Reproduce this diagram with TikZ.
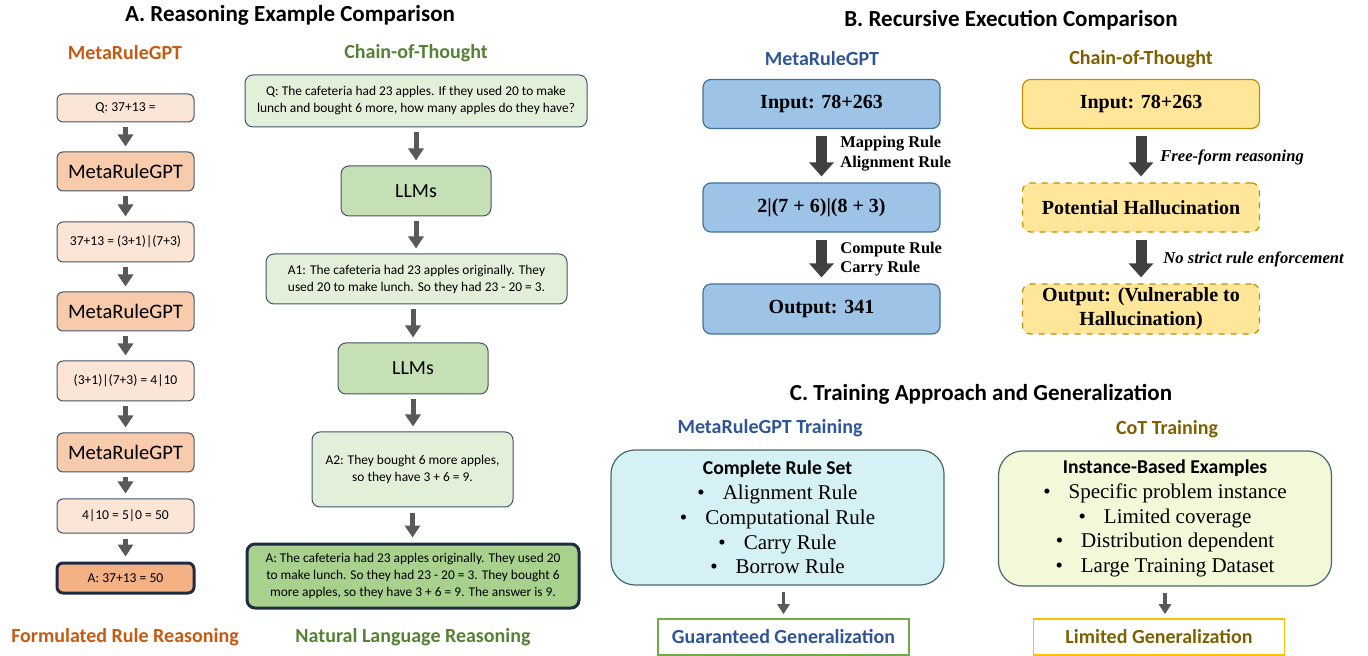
\documentclass[tikz,border=0pt]{standalone}
\usepackage{fontspec}
\setmainfont{Carlito}
\newfontfamily\rmserif{Liberation Serif}
\usetikzlibrary{arrows.meta}
\usetikzlibrary{positioning}

\definecolor{mrorange}{HTML}{C55A11}
\definecolor{cotgreen}{HTML}{548235}
\definecolor{peachlight}{HTML}{FBE5D6}
\definecolor{peach}{HTML}{F8CBAD}
\definecolor{peachdark}{HTML}{F4B183}
\definecolor{greenlight}{HTML}{E2F0D9}
\definecolor{greenmid}{HTML}{C5E0B4}
\definecolor{greendark}{HTML}{A9D18E}
\definecolor{slate}{HTML}{44546A}
\definecolor{navy}{HTML}{1F2B45}
\definecolor{arrowgray}{HTML}{595959}
\definecolor{arrowdark}{HTML}{404040}
\definecolor{mrblue}{HTML}{2F5597}
\definecolor{cotgold}{HTML}{7F6000}
\definecolor{boxblue}{HTML}{9DC3E6}
\definecolor{blueline}{HTML}{41719C}
\definecolor{boxyellow}{HTML}{FFE699}
\definecolor{goldline}{HTML}{BF9000}
\definecolor{cyanlight}{HTML}{D6F1F6}
\definecolor{yellowlight}{HTML}{F3F8D8}
\definecolor{tealline}{HTML}{4A6868}
\definecolor{genegreen}{HTML}{70AD47}
\definecolor{geneyellow}{HTML}{FFC000}

\newcommand{\fsz}[2]{\fontsize{#1}{#2}\selectfont}

\tikzset{
  maintitle/.style={font=\bfseries\fsz{11.5}{14}},
  heading/.style={font=\bfseries\fsz{10}{12}},
  abox/.style={draw=slate, line width=0.5pt, rounded corners=3pt, minimum width=68.5pt, inner sep=0pt, align=center},
  stepsmall/.style={abox, fill=peachlight, font=\fsz{6.8}{8}},
  modelbox/.style={abox, fill=peach, minimum height=19.5pt, font=\fsz{10.3}{12}},
  cotbox/.style={draw=slate, line width=0.5pt, rounded corners=4pt, fill=greenlight, inner sep=0pt, align=center, font=\fsz{6.7}{8.5}},
  llmbox/.style={cotbox, fill=greenmid, minimum width=75pt, minimum height=25pt, font=\fsz{10}{12}},
  garrow/.style={draw=arrowgray, line width=2.5pt, -{Triangle[width=7.5pt,length=6pt]}, shorten <=2.5pt, shorten >=2.5pt},
  bbox/.style={draw=blueline, line width=0.6pt, rounded corners=4pt, fill=boxblue, minimum width=118.5pt, minimum height=24.5pt, inner sep=0pt, align=center, font=\rmserif\bfseries\fsz{10}{12}},
  ybox/.style={bbox, draw=goldline, fill=boxyellow},
  fatarrow/.style={draw=arrowdark, line width=5.5pt, -{Triangle[width=12pt,length=7pt]}, shorten <=3.5pt, shorten >=3pt},
  rulelbl/.style={font=\rmserif\bfseries\fsz{8.2}{9.7}, align=left, anchor=west, inner sep=0pt},
  freelbl/.style={font=\rmserif\bfseries\itshape\fsz{8.3}{9.7}, anchor=west, inner sep=0pt},
  trainbox/.style={draw=tealline, line width=0.6pt, rounded corners=12pt, minimum width=166.5pt, minimum height=67.5pt, inner sep=0pt, align=center, font=\fsz{10.5}{12.4}},
  genbox/.style={line width=0.8pt, fill=white, minimum width=125.5pt, minimum height=18pt, inner sep=0pt, font=\bfseries\fsz{10}{12}},
  smallarrow/.style={draw=arrowgray, line width=1.6pt, -{Triangle[width=6pt,length=5pt]}, shorten <=3pt, shorten >=2pt}
}

\begin{document}
\begin{tikzpicture}[x=0.5pt,y=-0.5pt]
  \useasboundingbox (0,0) rectangle (1368,656);

  % A. reasoning example
  \node[maintitle] (ttlA) at (290,15) {A. Reasoning Example Comparison};
  \node[heading,text=mrorange] (hdMR) at (125,53) {MetaRuleGPT};
  \node[heading,text=cotgreen] (hdCoT) at (416,53) {Chain-of-Thought};

  \node[stepsmall,minimum height=14pt] (q1) at (125.5,108) {Q: 37+13 =};
  \node[modelbox] (m1) at (125.5,171.5) {MetaRuleGPT};
  \node[stepsmall,minimum height=20pt] (s1) at (125.5,242) {37+13 = (3+1)|(7+3)};
  \node[modelbox] (m2) at (125.5,311.5) {MetaRuleGPT};
  \node[stepsmall,minimum height=20pt] (s2) at (125.5,381) {(3+1)|(7+3) = 4|10};
  \node[modelbox] (m3) at (125.5,452.5) {MetaRuleGPT};
  \node[stepsmall,minimum height=17pt] (s3) at (125.5,516) {4|10 = 5|0 = 50};
  \node[stepsmall,fill=peachdark,draw=navy,line width=1.5pt,minimum height=15pt] (ans) at (125.5,578) {A: 37+13 = 50};

  \draw[garrow] (q1) -- (m1);
  \draw[garrow] (m1) -- (s1);
  \draw[garrow] (s1) -- (m2);
  \draw[garrow] (m2) -- (s2);
  \draw[garrow] (s2) -- (m3);
  \draw[garrow] (m3) -- (s3);
  \draw[garrow] (s3) -- (ans);

  \node[cotbox,minimum width=171pt,minimum height=26pt] (cq) at (416,101)
    {Q: The cafeteria had 23 apples. If they used 20 to make\\lunch and bought 6 more, how many apples do they have?};
  \node[llmbox] (llm1) at (416,191) {LLMs};
  \node[cotbox,minimum width=150.5pt,minimum height=25pt] (ca1) at (416.5,279)
    {A1: The cafeteria had 23 apples originally. They\\used 20 to make lunch. So they had 23 - 20 = 3.};
  \node[llmbox,minimum height=25.5pt] (llm2) at (413,368.5) {LLMs};
  \node[cotbox,minimum width=100.5pt,minimum height=37.5pt] (ca2) at (412.5,469.5)
    {A2: They bought 6 more apples,\\so they have 3 + 6 = 9.};
  \node[cotbox,fill=greendark,draw=navy,line width=1.5pt,minimum width=166pt,minimum height=32pt] (cans) at (413,576)
    {A: The cafeteria had 23 apples originally. They used 20\\to make lunch. So they had 23 - 20 = 3. They bought 6\\more apples, so they have 3 + 6 = 9. The answer is 9.};

  \draw[garrow] (cq) -- (llm1);
  \draw[garrow] (llm1) -- (llm1 |- ca1.north);
  \draw[garrow] (llm2.north |- ca1.south) -- (llm2);
  \draw[garrow] (llm2) -- (llm2 |- ca2.north);
  \draw[garrow] (ca2) -- (ca2 |- cans.north);

  \node[heading,text=mrorange] (ftMR) at (125,637) {Formulated Rule Reasoning};
  \node[heading,text=cotgreen] (ftCoT) at (413,637) {Natural Language Reasoning};

  % B. recursive execution
  \node[maintitle] (ttlB) at (1011,20) {B. Recursive Execution Comparison};
  \node[heading,text=mrblue] (hdB1) at (822,59) {MetaRuleGPT};
  \node[heading,text=cotgold] (hdB2) at (1141,59) {Chain-of-Thought};

  \node[bbox] (in1) at (821.5,104) {Input: 78+263};
  \node[bbox] (mid1) at (821.5,207.5) {2|(7 + 6)|(8 + 3)};
  \node[bbox,minimum height=25pt] (out1) at (821.5,309) {Output: 341};
  \draw[fatarrow] (in1) -- (mid1);
  \draw[fatarrow] (mid1) -- (out1);
  \node[rulelbl] (r1) at (840,153.5) {Mapping Rule\\Alignment Rule};
  \node[rulelbl] (r2) at (840,259) {Compute Rule\\Carry Rule};

  \node[ybox] (in2) at (1141,104) {Input: 78+263};
  \node[ybox,dashed] (mid2) at (1141,207.5) {Potential Hallucination};
  \node[ybox,dashed,minimum height=25pt] (out2) at (1141,309) {Output: (Vulnerable to\\Hallucination)};
  \draw[fatarrow] (in2) -- (mid2);
  \draw[fatarrow] (mid2) -- (out2);
  \node[freelbl] (f1) at (1160,157) {Free-form reasoning};
  \node[freelbl] (f2) at (1163,259) {No strict rule enforcement};

  % C. training approach
  \node[maintitle] (ttlC) at (981,394) {C. Training Approach and Generalization};
  \node[heading,text=mrblue] (hdC1) at (770,428) {MetaRuleGPT Training};
  \node[heading,text=cotgold] (hdC2) at (1167,429) {CoT Training};

  \node[trainbox,fill=cyanlight] (rules) at (777.5,517.5)
    {{\bfseries\fsz{9.8}{12.4}Complete Rule Set}\\
     {\rmserif\textbullet\hspace{9pt}Alignment Rule}\\
     {\rmserif\textbullet\hspace{9pt}Computational Rule}\\
     {\rmserif\textbullet\hspace{9pt}Carry Rule}\\
     {\rmserif\textbullet\hspace{9pt}Borrow Rule}};
  \node[trainbox,fill=yellowlight] (insts) at (1165,518.5)
    {{\bfseries\fsz{9.8}{12.4}Instance-Based Examples}\\
     {\rmserif\textbullet\hspace{9pt}Specific problem instance}\\
     {\rmserif\textbullet\hspace{9pt}Limited coverage}\\
     {\rmserif\textbullet\hspace{9pt}Distribution dependent}\\
     {\rmserif\textbullet\hspace{9pt}Large Training Dataset}};

  \node[genbox,draw=genegreen,text=mrblue] (gen1) at (783.5,637) {Guaranteed Generalization};
  \node[genbox,draw=geneyellow,text=cotgold] (gen2) at (1159,637) {Limited Generalization};
  \draw[smallarrow] (gen1 |- rules.south) -- (gen1);
  \draw[smallarrow] (insts.south) -- (insts |- gen2.north);
\end{tikzpicture}
\end{document}
